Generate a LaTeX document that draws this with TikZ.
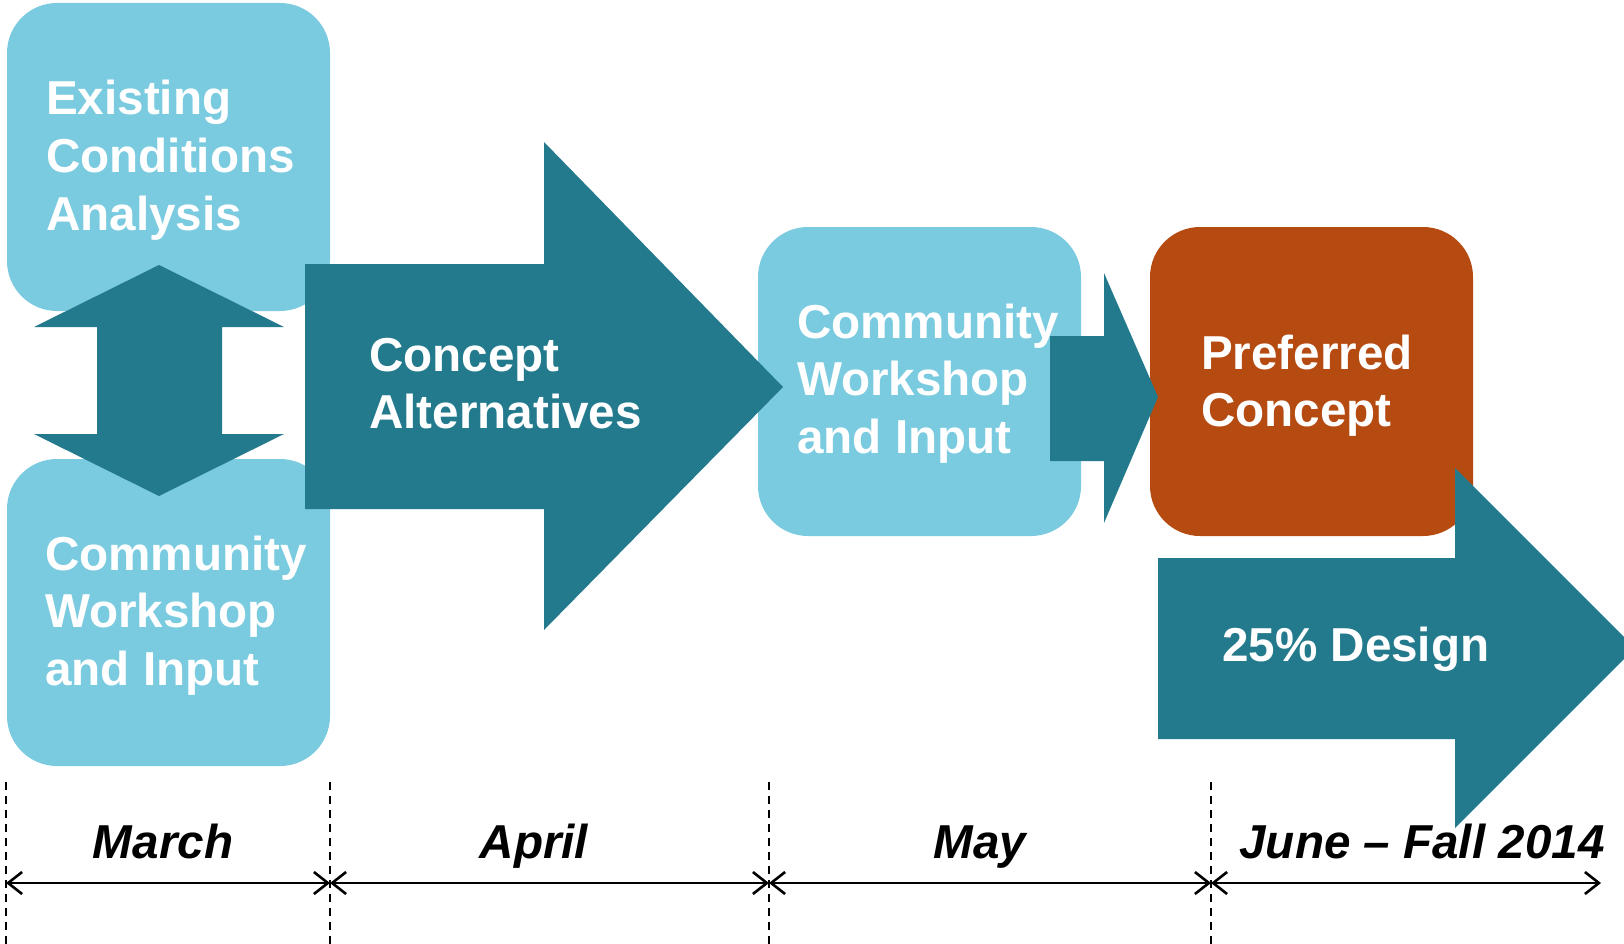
\documentclass[tikz,border=0pt]{standalone}
\usepackage{fontspec}
\setmainfont{Liberation Sans}
\usetikzlibrary{arrows.meta}
\definecolor{sky}{RGB}{122,203,224}
\definecolor{deepteal}{RGB}{35,122,141}
\definecolor{rust}{RGB}{181,75,17}
\begin{document}
\begin{tikzpicture}[x=1pt,y=-1pt,
  stagebox/.style={rounded corners=50pt, inner sep=0pt, outer sep=0pt, draw=none},
  flow/.style={fill=deepteal, draw=none},
  label/.style={anchor=base west, inner sep=0pt, text=white,
                font=\fontsize{47.6}{57}\selectfont\bfseries},
  month/.style={anchor=base, inner sep=0pt, text=black,
                font=\fontsize{47.6}{57}\selectfont\bfseries\itshape},
  span/.style={line width=2.6pt, {Straight Barb[length=14pt,width=22pt]}-{Straight Barb[length=14pt,width=22pt]}},
  divider/.style={line width=1.4pt, dash pattern=on 8pt off 6pt}
]
\useasboundingbox (0,0) rectangle (1624,944);
\clip (0,0) rectangle (1624,944);

% stage boxes
\node[stagebox, fill=sky, minimum width=323pt, minimum height=308pt] (existing) at (168.5,157) {};
\node[stagebox, fill=sky, minimum width=323pt, minimum height=307pt] (workshopA) at (168.5,612.5) {};
\node[stagebox, fill=sky, minimum width=323pt, minimum height=309pt] (workshopB) at (919.5,381.5) {};
\node[stagebox, fill=rust, minimum width=323pt, minimum height=309pt] (preferred) at (1311.5,381.5) {};

% two-way arrow between analysis and workshop
\fill[flow] (159,265) -- (284,327) -- (222,327) -- (222,434) -- (284,434) -- (159,496)
  -- (34,434) -- (97,434) -- (97,327) -- (34,327) -- cycle;

% block arrows
\fill[flow] (305,264) -- (544,264) -- (544,142) -- (783,387) -- (544,630) -- (544,509) -- (305,509) -- cycle;
\fill[flow] (1050,336) -- (1104,336) -- (1104,273) -- (1158,397) -- (1104,523) -- (1104,461) -- (1050,461) -- cycle;
\fill[flow] (1158,558) -- (1455,558) -- (1455,468) -- (1635,648) -- (1455,828) -- (1455,739) -- (1158,739) -- cycle;

% texts
\node[label] (ex1) at (46,115) {Existing};
\node[label] (ex2) at (46,172.5) {Conditions};
\node[label] (ex3) at (46,230) {Analysis};

\node[label] (wa1) at (45,570) {Community};
\node[label] (wa2) at (45,627.5) {Workshop};
\node[label] (wa3) at (45,685) {and Input};

\node[label] (ca1) at (369,371) {Concept};
\node[label] (ca2) at (369,428.5) {Alternatives};

\node[label] (wb1) at (797,338) {Community};
\node[label] (wb2) at (797,395.5) {Workshop};
\node[label] (wb3) at (797,453) {and Input};

\node[label] (pc1) at (1201,369) {Preferred};
\node[label] (pc2) at (1201,426.5) {Concept};

\node[label] (d25) at (1222,661) {25\% Design};

% timeline
\coordinate (t0) at (6,883);
\coordinate (t1) at (330,883);
\coordinate (t2) at (769,883);
\coordinate (t3) at (1211,883);
\coordinate (t4) at (1601,883);
\coordinate (d0) at (6,782);
\coordinate (d1) at (330,782);
\coordinate (d2) at (769,782);
\coordinate (d3) at (1211,782);
\coordinate (e0) at (6,944);
\coordinate (e1) at (330,944);
\coordinate (e2) at (769,944);
\coordinate (e3) at (1211,944);

\draw[divider] (d0) -- (e0);
\draw[divider] (d1) -- (e1);
\draw[divider] (d2) -- (e2);
\draw[divider] (d3) -- (e3);

\draw[span] (t0) -- (t1);
\draw[span] (t1) -- (t2);
\draw[span] (t2) -- (t3);
\draw[span] (t3) -- (t4);

\node[month] (mar) at (163,858) {March};
\node[month] (apr) at (534,858) {April};
\node[month] (may) at (980,858) {May};
\node[month] (jun) at (1422,858) {June – Fall 2014};
\end{tikzpicture}
\end{document}
